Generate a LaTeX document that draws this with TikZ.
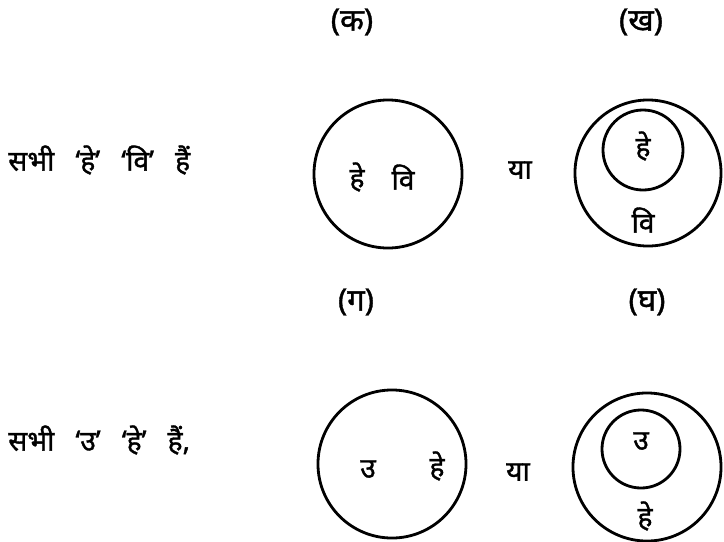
\documentclass[tikz,border=0pt]{standalone}
\usepackage{fontspec}
\newfontfamily\hindi[Script=Devanagari, FakeBold=1.2]{Noto Sans}
\newcommand{\chaudi}{\spaceskip=0.75em\relax}

\begin{document}
\begin{tikzpicture}[x=0.025cm, y=-0.025cm,
	every node/.style={font=\hindi\fontsize{20}{24}\selectfont, inner sep=0pt},
	vritt/.style={circle, draw, line width=2pt, minimum size=#1},
	chinh/.style={font=\hindi\fontsize{22}{26}\selectfont},
	kathan/.style={anchor=west}]
	\useasboundingbox (0,0) rectangle (724,541);
	% Pankti 1
	\node[kathan] (kathan1) at (8,160) {\chaudi सभी ‘हे’ ‘वि’ हैं};
	\node[chinh] (ka) at (352,22) {(क)};
	\node[chinh] (kha) at (641,22) {(ख)};
	
	\node[vritt=3.7cm] (v1) at (388,174) {};
	\node (he1) at (357,177) {हे};
	\node (vi1) at (403,177) {वि};
	\node (ya1) at (520,170) {या};
	
	\node[vritt=3.65cm] (v2) at (648,173) {};
	\node[vritt=2.0cm] (v2a) at (643,150) {};
	\node (he2) at (643,146) {हे};
	\node (vi2) at (643,220) {वि};
	
	% Pankti 2
	\node[kathan] (kathan2) at (8,440) {\chaudi सभी ‘उ’ ‘हे’ हैं,};
	\node[chinh] (ga) at (356,302) {(ग)};
	\node[chinh] (gha) at (647,302) {(घ)};
	
	\node[vritt=3.7cm] (v3) at (392,464) {};
	\node (u3) at (368,469) {उ};
	\node (he3) at (437,466) {हे};
	\node (ya2) at (518,472) {या};
	
	\node[vritt=3.7cm] (v4) at (647,467) {};
	\node[vritt=1.95cm] (v4a) at (641,449) {};
	\node (u4) at (641,441) {उ};
	\node (he4) at (645,516) {हे};
\end{tikzpicture}
\end{document}
